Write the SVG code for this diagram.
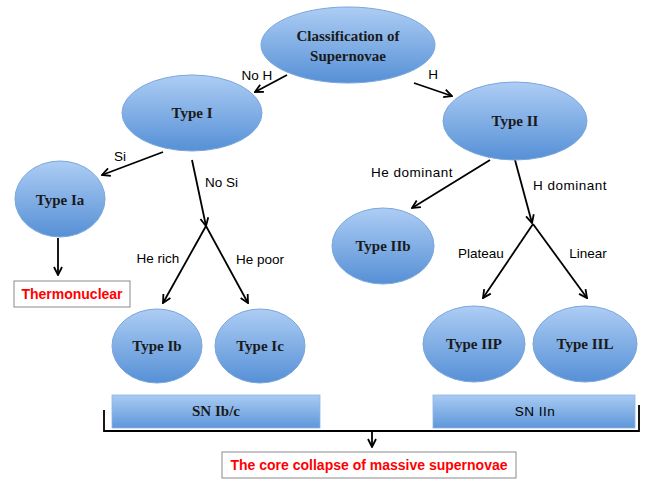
<svg xmlns="http://www.w3.org/2000/svg" width="654" height="491" viewBox="0 0 654 491">
<defs>
<linearGradient id="g" x1="0" y1="0" x2="0" y2="1">
<stop offset="0" stop-color="#adcdf4"/>
<stop offset="1" stop-color="#5690d6"/>
</linearGradient>
<linearGradient id="gb" x1="0" y1="0" x2="0" y2="1">
<stop offset="0" stop-color="#a9cbf3"/>
<stop offset="1" stop-color="#5e97da"/>
</linearGradient>
<marker id="ah" viewBox="0 0 10 10" refX="9" refY="5" markerWidth="10" markerHeight="10" markerUnits="userSpaceOnUse" orient="auto">
<path d="M1,1 L9,5 L1,9" fill="none" stroke="#000" stroke-width="1.8"/>
</marker>
</defs>
<style>
.n{fill:url(#g);stroke:#7aa6dd;stroke-width:1}
.nt{font-family:"Liberation Serif",serif;font-weight:bold;font-size:15px;fill:#1a1a1a;text-anchor:middle}
.el{font-family:"Liberation Sans",sans-serif;font-size:13.5px;fill:#000}
.c{fill:none;stroke:#000;stroke-width:1.8}
.a{marker-end:url(#ah)}
.rb{fill:#fff;stroke:#8a8a8a;stroke-width:1}
.rt{font-family:"Liberation Sans",sans-serif;font-weight:bold;font-size:14px;fill:#ff0000;text-anchor:middle}
.b{fill:url(#gb);stroke:#8fb3e3;stroke-width:0.8}
</style>
<g id="connectors">
<line class="c a" x1="287" y1="75" x2="255" y2="92"/>
<line class="c a" x1="414" y1="83" x2="452" y2="96"/>
<line class="c a" x1="163" y1="152" x2="102" y2="175"/>
<line class="c a" x1="192" y1="160" x2="206" y2="226"/>
<line class="c a" x1="206" y1="226" x2="163" y2="303"/>
<line class="c a" x1="206" y1="226" x2="248" y2="303"/>
<line class="c a" x1="58" y1="238" x2="58" y2="275"/>
<line class="c a" x1="490" y1="160" x2="412" y2="208"/>
<line class="c a" x1="515" y1="160" x2="532" y2="223"/>
<line class="c a" x1="533" y1="224" x2="483" y2="298"/>
<line class="c a" x1="533" y1="224" x2="587" y2="298"/>
<polyline class="c" points="104,410 104,431 639,431 639,405"/>
<line class="c a" x1="372" y1="431" x2="372" y2="447"/>
<text class="el" x="257" y="80" text-anchor="middle">No H</text>
<text class="el" x="433" y="79" text-anchor="middle">H</text>
<text class="el" x="120" y="161" text-anchor="middle">Si</text>
<text class="el" x="205" y="187">No Si</text>
<text class="el" x="158" y="263" text-anchor="middle">He rich</text>
<text class="el" x="260" y="264" text-anchor="middle">He poor</text>
<text class="el" x="412" y="177" text-anchor="middle" letter-spacing="0.5">He dominant</text>
<text class="el" x="533" y="190" letter-spacing="0.5">H dominant</text>
<text class="el" x="481" y="258" text-anchor="middle">Plateau</text>
<text class="el" x="588" y="258" text-anchor="middle">Linear</text>
</g>
<g id="n-root">
<ellipse class="n" cx="348" cy="45" rx="87" ry="38"/>
<text class="nt" x="348" y="41">Classification of</text>
<text class="nt" x="348" y="61">Supernovae</text>
</g>
<g id="n-type1">
<ellipse class="n" cx="192" cy="113" rx="70" ry="38"/>
<text class="nt" x="192" y="118">Type I</text>
</g>
<g id="n-type2">
<ellipse class="n" cx="515" cy="121" rx="72" ry="39"/>
<text class="nt" x="515" y="126">Type II</text>
</g>
<g id="n-type1a">
<ellipse class="n" cx="60" cy="199" rx="45" ry="38"/>
<text class="nt" x="60" y="205">Type Ia</text>
</g>
<g id="n-thermo">
<rect class="rb" x="14" y="281" width="116" height="26"/>
<text class="rt" x="72" y="299">Thermonuclear</text>
</g>
<g id="n-type1b">
<ellipse class="n" cx="157" cy="346" rx="45" ry="37"/>
<text class="nt" x="157" y="351">Type Ib</text>
</g>
<g id="n-type1c">
<ellipse class="n" cx="260" cy="346" rx="45" ry="37"/>
<text class="nt" x="260" y="351">Type Ic</text>
</g>
<g id="n-type2b">
<ellipse class="n" cx="383" cy="246" rx="51" ry="38"/>
<text class="nt" x="383" y="251">Type IIb</text>
</g>
<g id="n-type2p">
<ellipse class="n" cx="474" cy="344" rx="51" ry="38"/>
<text class="nt" x="474" y="349">Type IIP</text>
</g>
<g id="n-type2l">
<ellipse class="n" cx="585" cy="344" rx="52" ry="38"/>
<text class="nt" x="585" y="349">Type IIL</text>
</g>
<g id="n-snibc">
<rect class="b" x="112" y="395" width="208" height="33"/>
<text class="nt" x="216" y="416">SN Ib/c</text>
</g>
<g id="n-sniin">
<rect class="b" x="433" y="395" width="202" height="33"/>
<text class="el" x="535" y="416" text-anchor="middle" letter-spacing="0.5">SN IIn</text>
</g>
<g id="n-core">
<rect class="rb" x="222" y="452" width="294" height="26"/>
<text class="rt" x="369" y="470">The core collapse of massive supernovae</text>
</g>
</svg>
